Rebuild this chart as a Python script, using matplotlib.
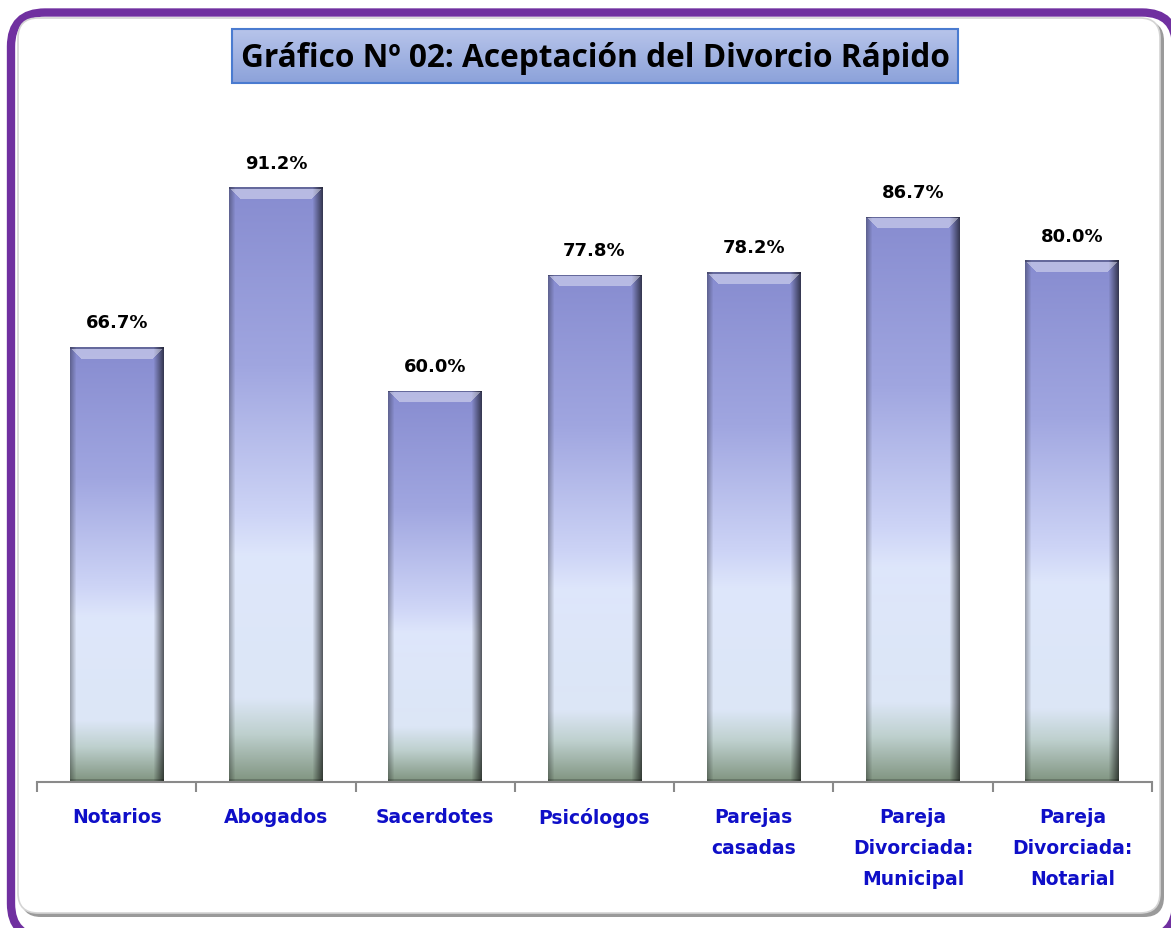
import numpy as np
import matplotlib
matplotlib.use("Agg")
import matplotlib.pyplot as plt
from matplotlib.patches import FancyBboxPatch, Rectangle

# data
categories = ["Notarios", "Abogados", "Sacerdotes", "Psicólogos",
              "Parejas\ncasadas", "Pareja\nDivorciada:\nMunicipal",
              "Pareja\nDivorciada:\nNotarial"]
values = [66.7, 91.2, 60.0, 77.8, 78.2, 86.7, 80.0]
title = "Gráfico Nº 02: Aceptación del Divorcio Rápido"

plt.rcParams['font.family'] = ['DejaVu Sans']
W, H = 1171, 929
fig = plt.figure(figsize=(W/100, H/100), dpi=100)

# background frame, in pixel coords
bg = fig.add_axes([0, 0, 1, 1], zorder=-5)
bg.set_xlim(0, W)
bg.set_ylim(H, 0)
bg.axis('off')
bg.add_patch(FancyBboxPatch((11, 13.5), 1165, 925, boxstyle="round,pad=0,rounding_size=34",
                            fc='white', ec='#7030a0', lw=6))
bg.add_patch(FancyBboxPatch((21, 22), 1143, 896, boxstyle="round,pad=0,rounding_size=20",
                            fc='#9a9a9a', ec='none'))
bg.add_patch(FancyBboxPatch((18, 19), 1142, 895, boxstyle="round,pad=0,rounding_size=20",
                            fc='white', ec='#d4d4d4', lw=1.2))

# title box with gradient
tb = [232, 30, 726, 54]
grad = np.linspace(0, 1, 60)[:, None, None]
top_c = np.array([183, 196, 234]) / 255
bot_c = np.array([140, 162, 218]) / 255
timg = top_c * (1 - grad) + bot_c * grad
timg = np.repeat(timg, 10, axis=1)
bg.imshow(timg, extent=(tb[0], tb[0]+tb[2], tb[1]+tb[3], tb[1]), aspect='auto', zorder=2)
bg.add_patch(Rectangle((tb[0], tb[1]), tb[2], tb[3], fc='none', ec='#4a7bd0', lw=1.5, zorder=3))
bg.text(tb[0]+tb[2]/2, tb[1]+tb[3]/2+1, title, ha='center', va='center',
        fontsize=22.8, fontweight='bold', color='black', zorder=4,
        family=['Open Sans', 'DejaVu Sans'])

# main axes
x0, x1, yb = 37, 1152, 783
ax = fig.add_axes([x0/W, (H-yb)/H, (x1-x0)/W, 652/H])
ax.set_xlim(-0.5, 6.5)
ax.set_ylim(0, 100)
ax.patch.set_alpha(0)
for s in ['top', 'right', 'left']:
    ax.spines[s].set_visible(False)
ax.spines['bottom'].set_color('#8a8a8a')
ax.spines['bottom'].set_linewidth(1.5)
ax.set_yticks([])

xs = np.arange(len(values))
bw = 0.59
bars = ax.bar(xs, values, width=bw, fc='none', ec='none', zorder=2)

stops = [0.0, 0.3, 0.55, 0.62, 0.86, 0.92, 1.0]
cols = np.array([[135, 140, 208], [160, 166, 224], [205, 212, 246], [222, 230, 251],
                 [220, 230, 246], [190, 208, 206], [128, 148, 128]]) / 255

def bar_image(hp, wp):
    r = np.linspace(0, 1, hp)
    col = np.stack([np.interp(r, stops, cols[:, k]) for k in range(3)], axis=1)
    img = np.repeat(col[:, None, :], wp, axis=1)
    shade = np.ones(wp)
    for i in range(6):
        shade[i] = 0.7 + 0.3 * i / 6
    for i in range(10):
        shade[wp-1-i] = 0.4 + 0.6 * i / 10
    img = img * shade[None, :, None]
    # top bevel
    for rr in range(min(12, hp)):
        a, b = rr, wp - rr
        if rr < 2:
            img[rr, :, :] *= 0.75
        elif a < b:
            img[rr, a:b, :] = img[rr, a:b, :] * 0.6 + 0.4
    img[-3:, :, :] *= 0.8
    return np.clip(img, 0, 1)

for b, v in zip(bars, values):
    bx, bwid = b.get_x(), b.get_width()
    p0 = ax.transData.transform((bx, 0))
    p1 = ax.transData.transform((bx + bwid, v))
    wp = int(round(p1[0] - p0[0]))
    hp = int(round(p1[1] - p0[1]))
    im = ax.imshow(bar_image(hp, wp), extent=(bx, bx+bwid, 0, v), aspect='auto',
                   interpolation='bilinear', zorder=2)
    im.set_clip_path(b)
    ax.text(bx + bwid/2, v + 3.8, f"{v:.1f}%", ha='center', va='center',
            fontsize=13, fontweight='bold', color='black')

ax.set_xticks(xs)
ax.set_xticklabels(categories, fontsize=13.5, fontweight='bold', color='#0f0fc8',
                   linespacing=1.8, va='top')
ax.tick_params(axis='x', which='major', length=0, pad=18)
ax.set_xticks(np.arange(-0.5, 7, 1), minor=True)
ax.tick_params(axis='x', which='minor', length=7, width=1.5, color='#8a8a8a')

fig.savefig("out.png", dpi=100)
